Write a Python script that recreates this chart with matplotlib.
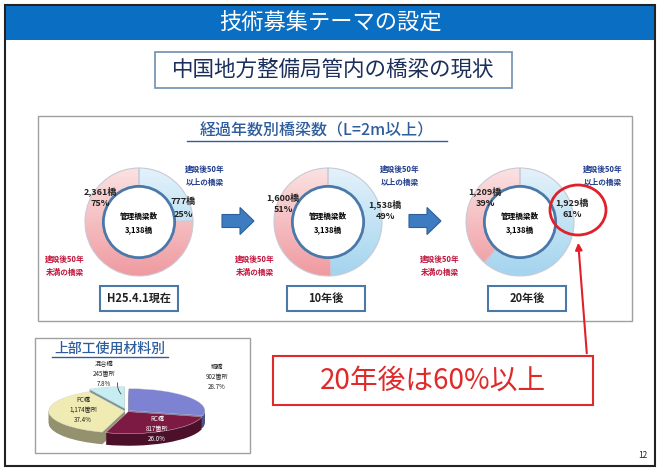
import matplotlib
matplotlib.use("Agg")
import matplotlib.pyplot as plt
import numpy as np
from matplotlib.patches import Rectangle, Circle, Ellipse, FancyArrow
from matplotlib.colors import LinearSegmentedColormap, to_rgb

plt.rcParams['font.family'] = ['Noto Sans CJK JP', 'DejaVu Sans']

# --- data ---
stage_labels = ["H25.4.1現在", "10年後", "20年後"]
over50 = [777, 1538, 1929]          # 建設後50年以上
under50 = [2361, 1600, 1209]        # 建設後50年未満
over50_pct = [25, 49, 61]
under50_pct = [75, 51, 39]
total_bridges = 3138

materials = ["鋼橋", "RC橋", "PC橋", "混合橋"]
mat_counts = [902, 817, 1174, 245]
mat_pct = [28.7, 26.0, 37.4, 7.8]

# --- layout (pixels) ---
W, H = 667, 469
centers = [(139, 222), (328, 222), (520, 222)]
R = 54
under_pos = [(100, 186), (283, 192), (485, 186)]
over_pos = [(183, 208), (385, 210), (572, 208)]
blue_pos = [(205, 176), (400, 176), (603, 176)]
red_pos = [(65, 266), (255, 266), (440, 266)]
box_x = [139, 326, 527]

BLUE_TXT = "#1f3c8c"
RED_TXT = "#c0143c"
EDGE_BLUE = "#4a78a8"


def pixel_axes(fig):
    a = fig.add_axes([0, 0, 1, 1])
    a.set_xlim(0, W)
    a.set_ylim(H, 0)
    a.axis('off')
    return a


fig = plt.figure(figsize=(W / 100, H / 100), dpi=100)
ax = pixel_axes(fig)

# slide frame + header
ax.add_patch(Rectangle((5, 5), 650, 461, facecolor='white', edgecolor='#222222', lw=1.5))
ax.add_patch(Rectangle((6, 6), 648, 34, facecolor='#0a6fc2', edgecolor='none'))
ax.text(330, 23, "技術募集テーマの設定", color='white', fontsize=16, ha='center', va='center')

ax.add_patch(Rectangle((155, 52), 357, 36, facecolor='white', edgecolor='#6f8fb0', lw=1.2))
ax.text(333, 70, "中国地方整備局管内の橋梁の現状", color='#1c2f5a', fontsize=15.5,
        ha='center', va='center')

# main panel
ax.add_patch(Rectangle((38, 116), 594, 205, facecolor='white', edgecolor='#a0a0a0', lw=1))
ax.text(317, 131, "経過年数別橋梁数（L=2m以上）", color='#2e5d9e', fontsize=11.5,
        ha='center', va='center', fontweight='medium')
ax.plot([187, 447], [141, 141], color='#2e5d9e', lw=1)

# material panel frame
ax.add_patch(Rectangle((35, 338), 215, 115, facecolor='white', edgecolor='#a0a0a0', lw=1))
ax.text(110, 349, "上部工使用材料別", color='#2e5d9e', fontsize=10, ha='center', va='center',
        fontweight='medium')
ax.plot([52, 168], [357, 357], color='#2e5d9e', lw=1)


def grad_cmap(c_top, c_bot):
    return LinearSegmentedColormap.from_list("g", [c_bot, c_top])


grad = np.linspace(0, 1, 200).reshape(-1, 1)
pink = grad_cmap("#fbe2e2", "#ef9aa0")
light_blue = grad_cmap("#e3f2fb", "#a3d4ee")

for i, (cx, cy) in enumerate(centers):
    pa = fig.add_axes([(cx - R) / W, (H - cy - R) / H, 2 * R / W, 2 * R / H])
    wedges, _ = pa.pie([over50[i], under50[i]], startangle=90, counterclock=False,
                       radius=1, wedgeprops=dict(width=0.34, edgecolor='#c9c9d6', lw=0.8))
    for w, cm in zip(wedges, [light_blue, pink]):
        im = pa.imshow(grad, extent=[-1, 1, -1, 1], cmap=cm, origin='lower',
                       aspect='auto', zorder=w.get_zorder() - 0.1)
        im.set_clip_path(w)
        w.set_facecolor('none')
    pa.add_patch(Circle((0, 0), 0.66, facecolor='white', edgecolor=EDGE_BLUE, lw=2, zorder=5))
    pa.text(0, 0.1, "管理橋梁数", fontsize=5.5, fontweight='bold', ha='center', va='center', zorder=6)
    pa.text(0, -0.14, f"{total_bridges:,}橋", fontsize=5.5, fontweight='bold', ha='center',
            va='center', zorder=6)
    pa.set_xlim(-1, 1)
    pa.set_ylim(-1, 1)
    pa.set_aspect('auto')
    pa.axis('off')

# 3D-looking material pie
top_cols = ["#7e82d2", "#7c1a44", "#efebb2", "#c6edf1"]
side_cols = [tuple(0.62 * np.array(to_rgb(c))) for c in top_cols]
explode = [0.03, 0.03, 0.03, 0.12]

pie3 = fig.add_axes([40 / W, (H - 450) / H, 175 / W, 70 / H])
depth = 0.55
for k in np.linspace(depth, 0.02, 14):
    pie3.pie(mat_counts, startangle=90, counterclock=False, colors=side_cols,
             explode=explode, center=(0, -k), wedgeprops=dict(lw=0))
pie3.pie(mat_counts, startangle=90, counterclock=False, colors=top_cols,
         explode=explode, center=(0, 0), wedgeprops=dict(lw=0.3, edgecolor='#dddddd'))
pie3.set_xlim(-1.145, 1.158)
pie3.set_ylim(-1.77, 1.41)
pie3.set_aspect('auto')
pie3.axis('off')

# overlay for texts and marks on top of the pies
ov = pixel_axes(fig)
ov.patch.set_alpha(0)

for i in range(3):
    ux, uy = under_pos[i]
    ov.text(ux, uy, f"{under50[i]:,}橋\n{under50_pct[i]}%", fontsize=6.5, fontweight='bold',
            ha='center', va='top', color='#222222', linespacing=1.5)
    ox, oy = over_pos[i]
    ov.text(ox, oy, f"{over50[i]:,}橋\n{over50_pct[i]}%", fontsize=6.5, fontweight='bold',
            ha='center', va='center', color='#222222', linespacing=1.5)
    bx, by = blue_pos[i]
    ov.text(bx, by, "建設後50年\n以上の橋梁", fontsize=5.5, fontweight='bold', ha='center',
            va='center', color=BLUE_TXT, linespacing=1.5)
    rx, ry = red_pos[i]
    ov.text(rx, ry, "建設後50年\n未満の橋梁", fontsize=5.5, fontweight='bold', ha='center',
            va='center', color=RED_TXT, linespacing=1.5)

    ov.add_patch(Rectangle((box_x[i] - 39, 286), 78, 25, facecolor='white',
                           edgecolor=EDGE_BLUE, lw=1.5))
    ov.text(box_x[i], 298.5, stage_labels[i], fontsize=8, fontweight='bold', ha='center',
            va='center', color='#222222')

# blue block arrows
for x0 in [222, 409]:
    ov.add_patch(FancyArrow(x0, 221, 18, 0, width=13, head_width=27, head_length=14,
                            length_includes_head=False, facecolor='#3d7cc0',
                            edgecolor='#2d5f9a', lw=0.8))

# red emphasis
ov.add_patch(Ellipse((578, 210), 56, 50, facecolor='none', edgecolor='#e0202a', lw=2))
ov.annotate("", xy=(578, 240), xytext=(587, 356),
            arrowprops=dict(arrowstyle='-|>', color='#e0202a', lw=1.5, mutation_scale=10))
ov.add_patch(Rectangle((273, 356), 320, 49, facecolor='white', edgecolor='#e02a2a', lw=1.5))
ov.text(433, 381, "20年後は60%以上", fontsize=20, color='#e02a2a', ha='center', va='center')

mat_pos = [(217, 377), (157, 429), (83, 410), (104, 374)]
mat_txtcol = ['#222222', 'white', '#222222', '#222222']
for name, n, p, (tx, ty), tc in zip(materials, mat_counts, mat_pct, mat_pos, mat_txtcol):
    ov.text(tx, ty, f"{name}\n{n:,}箇所\n{p:.1f}%", fontsize=4.5, ha='center', va='center',
            color=tc, linespacing=1.3)
ov.annotate("", xy=(123, 396), xytext=(118, 380),
            arrowprops=dict(arrowstyle='-', color='#444444', lw=0.6,
                            connectionstyle="arc3,rad=0.3"))

ov.text(643, 456, "12", fontsize=6, ha='center', va='center', color='#222222')

fig.savefig("out.png", dpi=100)
